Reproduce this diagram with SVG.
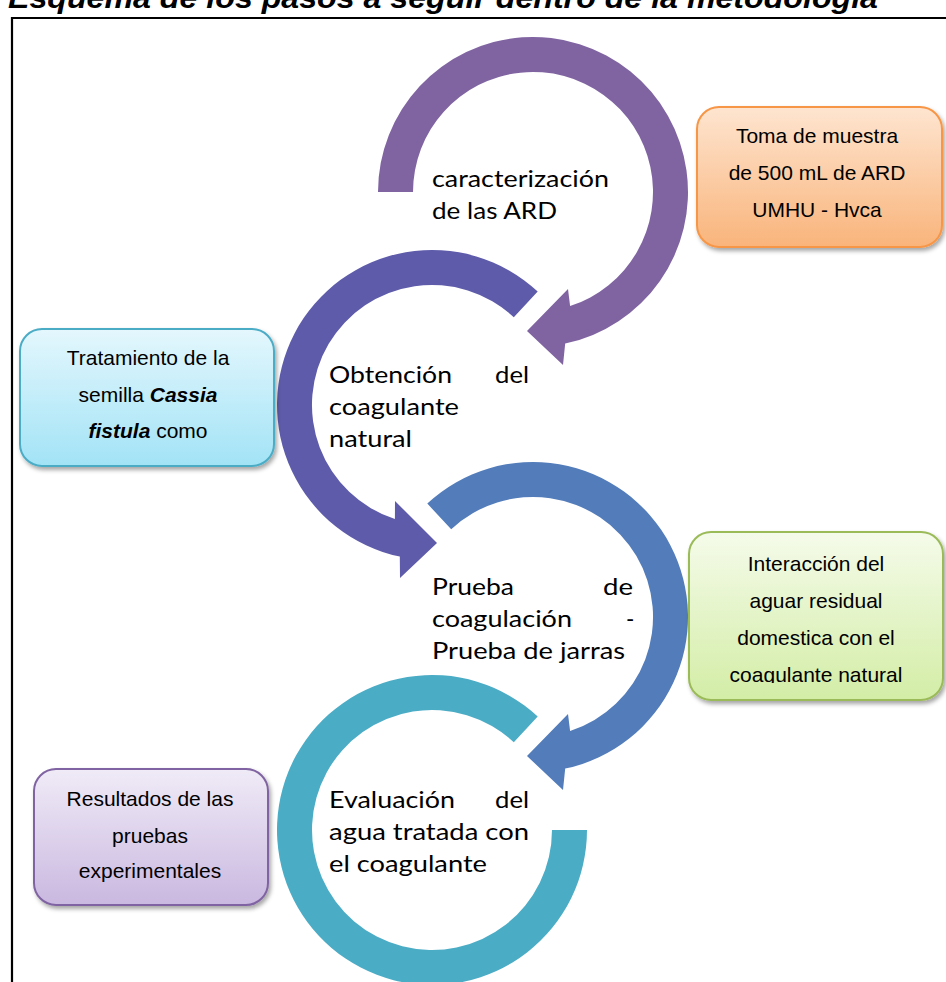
<svg xmlns="http://www.w3.org/2000/svg" width="946" height="982" viewBox="0 0 946 982">
<style>
.title{font-family:"Liberation Sans",Arial,sans-serif;font-weight:bold;font-style:italic;font-size:30px;fill:#000}
.ct{font-family:Lato,"Liberation Sans",sans-serif;font-size:22.5px;fill:#000}
.bt{font-family:"Liberation Sans",Arial,sans-serif;font-size:21px;fill:#000;text-anchor:middle}
.bi{font-weight:bold;font-style:italic}
.box{stroke-width:2}
</style>
<defs>
<linearGradient id="gOr" x1="0" y1="0" x2="0" y2="1"><stop offset="0" stop-color="#FEE5D0"/><stop offset="1" stop-color="#F9B47B"/></linearGradient>
<linearGradient id="gCy" x1="0" y1="0" x2="0" y2="1"><stop offset="0" stop-color="#E4F7FD"/><stop offset="1" stop-color="#A2E3F6"/></linearGradient>
<linearGradient id="gGr" x1="0" y1="0" x2="0" y2="1"><stop offset="0" stop-color="#F5FBEA"/><stop offset="1" stop-color="#D3EDA6"/></linearGradient>
<linearGradient id="gLv" x1="0" y1="0" x2="0" y2="1"><stop offset="0" stop-color="#F0EBF7"/><stop offset="1" stop-color="#CAB8E0"/></linearGradient>
<filter id="sh" x="-10%" y="-10%" width="125%" height="130%"><feDropShadow dx="2" dy="3" stdDeviation="2" flood-color="#000" flood-opacity="0.35"/></filter>
<clipPath id="clipG"><rect x="680" y="520" width="266" height="163"/></clipPath>
</defs>
<rect width="946" height="982" fill="#fff"/>
<text class="title" x="8" y="8" textLength="870" lengthAdjust="spacingAndGlyphs">Esquema de los pasos a seguir dentro de la metodología</text>
<path d="M12,982 V18 H946" fill="none" stroke="#000" stroke-width="2.2"/>

<g id="connectors">
<path id="arc1" fill="#8064A2" d="M378,192 A155,155 0 1 1 565.2,343.6 L563,365 L527,331 L568,289 L570.1,306.1 A120,120 0 1 0 413,192 Z"/>
<path id="arc2" fill="#5E5BAA" d="M537.7,291.6 A155,155 0 1 0 399.8,556.6 L400,578 L437,543 L395,501 L394.9,519.1 A120,120 0 1 1 513.8,317.2 Z"/>
<path id="arc3" fill="#527CBA" d="M427.3,503.6 A155,155 0 1 1 565.2,768.6 L563,790 L527,756 L568,714 L570.1,731.1 A120,120 0 1 0 451.2,529.2 Z"/>
<path id="arc4" fill="#4BACC6" d="M587,830 A155,155 0 1 1 537.7,716.6 L513.8,742.2 A120,120 0 1 0 552,830 Z"/>
</g>

<g id="step1">
<text class="ct" x="432" y="187" textLength="177" lengthAdjust="spacingAndGlyphs">caracterización</text>
<text class="ct" x="432" y="219" textLength="125" lengthAdjust="spacingAndGlyphs">de las ARD</text>
</g>
<g id="step2">
<text class="ct" x="329" y="383" textLength="123" lengthAdjust="spacingAndGlyphs">Obtención</text>
<text class="ct" x="495" y="383" textLength="34" lengthAdjust="spacingAndGlyphs">del</text>
<text class="ct" x="329" y="415" textLength="130" lengthAdjust="spacingAndGlyphs">coagulante</text>
<text class="ct" x="329" y="447" textLength="83" lengthAdjust="spacingAndGlyphs">natural</text>
</g>
<g id="step3">
<text class="ct" x="432" y="595" textLength="82" lengthAdjust="spacingAndGlyphs">Prueba</text>
<text class="ct" x="603" y="595" textLength="30" lengthAdjust="spacingAndGlyphs">de</text>
<text class="ct" x="432" y="627" textLength="140" lengthAdjust="spacingAndGlyphs">coagulación</text>
<text class="ct" x="626" y="627">-</text>
<text class="ct" x="432" y="659" textLength="193" lengthAdjust="spacingAndGlyphs">Prueba de jarras</text>
</g>
<g id="step4">
<text class="ct" x="329" y="808" textLength="126" lengthAdjust="spacingAndGlyphs">Evaluación</text>
<text class="ct" x="495" y="808" textLength="34" lengthAdjust="spacingAndGlyphs">del</text>
<text class="ct" x="329" y="840" textLength="200" lengthAdjust="spacingAndGlyphs">agua tratada con</text>
<text class="ct" x="329" y="872" textLength="158" lengthAdjust="spacingAndGlyphs">el coagulante</text>
</g>

<g id="box-muestra">
<rect class="box" x="697" y="107" width="245" height="140" rx="22" fill="url(#gOr)" stroke="#F79646" filter="url(#sh)"/>
<text class="bt" x="817" y="143">Toma de muestra</text>
<text class="bt" x="817" y="180">de 500 mL de ARD</text>
<text class="bt" x="817" y="217">UMHU - Hvca</text>
</g>
<g id="box-tratamiento">
<rect class="box" x="20" y="329" width="254" height="137" rx="22" fill="url(#gCy)" stroke="#4BACC6" filter="url(#sh)"/>
<text class="bt" x="148" y="365">Tratamiento de la</text>
<text class="bt" x="148" y="402">semilla <tspan class="bi">Cassia</tspan></text>
<text class="bt" x="148" y="438"><tspan class="bi">fistula</tspan> como</text>
</g>
<g id="box-interaccion">
<rect class="box" x="689" y="532" width="254" height="168" rx="22" fill="url(#gGr)" stroke="#9BBB59" filter="url(#sh)"/>
<g clip-path="url(#clipG)">
<text class="bt" x="816" y="571">Interacción del</text>
<text class="bt" x="816" y="608">aguar residual</text>
<text class="bt" x="816" y="645">domestica con el</text>
<text class="bt" x="816" y="682">coagulante natural</text>
</g>
</g>
<g id="box-resultados">
<rect class="box" x="34" y="769" width="234" height="136" rx="22" fill="url(#gLv)" stroke="#8064A2" filter="url(#sh)"/>
<text class="bt" x="150" y="806">Resultados de las</text>
<text class="bt" x="150" y="843">pruebas</text>
<text class="bt" x="150" y="878">experimentales</text>
</g>
</svg>
